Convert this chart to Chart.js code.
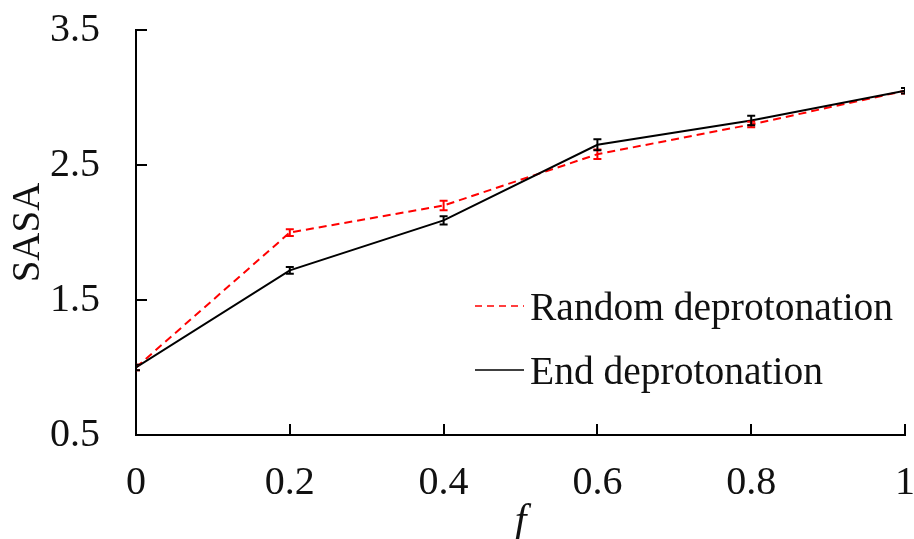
<!DOCTYPE html>
<html>
<head>
<meta charset="utf-8">
<script src="https://cdn.jsdelivr.net/npm/chart.js@4/dist/chart.umd.min.js"></script>
<style>
  html, body { margin: 0; padding: 0; background: #fff; }
  #wrap { width: 914px; height: 539px; position: relative; }
</style>
</head>
<body>
<div id="wrap"><canvas id="c"></canvas></div>
<script>
// Fraction of deprotonated groups
const fValues = [0, 0.2, 0.4, 0.6, 0.8, 1];

// SASA for random deprotonation, with error bar half-widths
const randomSASA = [1.00, 2.00, 2.20, 2.58, 2.80, 3.05];
const randomErr  = [0.02, 0.025, 0.035, 0.035, 0.02, 0.02];

// SASA for end deprotonation, with error bar half-widths
const endSASA = [1.00, 1.72, 2.09, 2.65, 2.83, 3.05];
const endErr  = [0.02, 0.025, 0.03, 0.04, 0.035, 0.02];

const xTicks = [0, 0.2, 0.4, 0.6, 0.8, 1];
const yTicks = [0.5, 1.5, 2.5, 3.5];

const seriesLabels = ['Random deprotonation', 'End deprotonation'];

const SERIF = '"Liberation Serif", "Times New Roman", serif';

function toPoints(xs, ys) {
  return xs.map((x, i) => ({ x: x, y: ys[i] }));
}

// Vertical error bars with short caps
const errorBars = {
  id: 'errorBars',
  afterDatasetsDraw(chart) {
    const { ctx, chartArea, scales } = chart;
    const xs = scales.x, ys = scales.y;
    ctx.save();
    ctx.beginPath();
    ctx.rect(chartArea.left, chartArea.top, chartArea.right - chartArea.left, chartArea.bottom - chartArea.top);
    ctx.clip();
    chart.data.datasets.forEach(ds => {
      const errs = ds.errors || [];
      ctx.strokeStyle = ds.borderColor;
      ctx.lineWidth = 2;
      ctx.setLineDash([]);
      ds.data.forEach((p, i) => {
        const e = errs[i] || 0;
        const x = xs.getPixelForValue(p.x);
        const y1 = ys.getPixelForValue(p.y + e);
        const y2 = ys.getPixelForValue(p.y - e);
        const cap = 4;
        ctx.beginPath();
        ctx.moveTo(x, y1); ctx.lineTo(x, y2);
        ctx.moveTo(x - cap, y1); ctx.lineTo(x + cap, y1);
        ctx.moveTo(x - cap, y2); ctx.lineTo(x + cap, y2);
        ctx.stroke();
      });
    });
    ctx.restore();
  }
};

// Tick marks pointing into the plot area
const innerTicks = {
  id: 'innerTicks',
  afterDraw(chart) {
    const { ctx, chartArea, scales } = chart;
    const len = 11;
    ctx.save();
    ctx.strokeStyle = '#000';
    ctx.lineWidth = 2;
    ctx.beginPath();
    scales.y.ticks.forEach(t => {
      const y = Math.round(scales.y.getPixelForValue(t.value));
      ctx.moveTo(chartArea.left, y);
      ctx.lineTo(chartArea.left + len, y);
    });
    scales.x.ticks.forEach(t => {
      const x = Math.round(scales.x.getPixelForValue(t.value));
      ctx.moveTo(x, chartArea.bottom);
      ctx.lineTo(x, chartArea.bottom - len);
    });
    ctx.stroke();
    ctx.restore();
  }
};

// Legend drawn inside the plot area
const innerLegend = {
  id: 'innerLegend',
  afterDraw(chart) {
    const { ctx } = chart;
    const rows = [306, 370];
    const x0 = 475, x1 = 524, tx = 530;
    ctx.save();
    ctx.font = '39.5px ' + SERIF;
    ctx.textBaseline = 'middle';
    ctx.textAlign = 'left';
    chart.data.datasets.forEach((ds, i) => {
      const y = rows[i];
      ctx.strokeStyle = ds.borderColor;
      ctx.lineWidth = 1.5;
      ctx.setLineDash(ds.borderDash && ds.borderDash.length ? [7, 5] : []);
      ctx.beginPath();
      ctx.moveTo(x0, y); ctx.lineTo(x1, y);
      ctx.stroke();
      ctx.setLineDash([]);
      ctx.fillStyle = '#111';
      ctx.fillText(ds.label, tx, y + 4);
    });
    ctx.restore();
  }
};

function fixBox(size, horizontal) {
  return function (scale) {
    if (horizontal) scale.height = size; else scale.width = size;
    scale.paddingLeft = 0; scale.paddingRight = 0;
    scale.paddingTop = 0; scale.paddingBottom = 0;
  };
}

new Chart(document.getElementById('c'), {
  type: 'line',
  data: {
    datasets: [
      {
        label: seriesLabels[0],
        data: toPoints(fValues, randomSASA),
        errors: randomErr,
        borderColor: '#ff0000',
        borderWidth: 2,
        borderDash: [8, 5],
        pointRadius: 0,
        fill: false,
        tension: 0,
        order: 1
      },
      {
        label: seriesLabels[1],
        data: toPoints(fValues, endSASA),
        errors: endErr,
        borderColor: '#000000',
        borderWidth: 2,
        pointRadius: 0,
        fill: false,
        tension: 0,
        order: 0
      }
    ]
  },
  options: {
    responsive: true,
    maintainAspectRatio: false,
    animation: false,
    layout: { padding: { left: 0, right: 9, top: 30, bottom: 0 } },
    plugins: {
      legend: { display: false },
      tooltip: { enabled: false }
    },
    scales: {
      x: {
        type: 'linear',
        min: 0, max: 1,
        afterFit: fixBox(104, true),
        afterBuildTicks(scale) { scale.ticks = xTicks.map(v => ({ value: v })); },
        grid: { display: false, drawTicks: false },
        border: { display: true, color: '#000', width: 2 },
        ticks: {
          color: '#111',
          padding: 24,
          font: { family: SERIF, size: 40 },
          callback: v => String(v)
        },
        title: {
          display: true,
          text: 'f',
          color: '#111',
          font: { family: SERIF, size: 42, style: 'italic', lineHeight: 1 },
          padding: { top: 0, bottom: -4 }
        }
      },
      y: {
        type: 'linear',
        min: 0.5, max: 3.5,
        afterFit: fixBox(136, false),
        afterBuildTicks(scale) { scale.ticks = yTicks.map(v => ({ value: v })); },
        grid: { display: false, drawTicks: false },
        border: { display: true, color: '#000', width: 2 },
        ticks: {
          color: '#111',
          padding: 36,
          font: { family: SERIF, size: 40 },
          callback: v => String(v)
        },
        title: {
          display: true,
          text: 'SASA',
          color: '#111',
          font: { family: SERIF, size: 39, lineHeight: 1.2 },
          padding: { top: 5, bottom: 0 }
        }
      }
    }
  },
  plugins: [errorBars, innerTicks, innerLegend]
});
</script>
</body>
</html>
